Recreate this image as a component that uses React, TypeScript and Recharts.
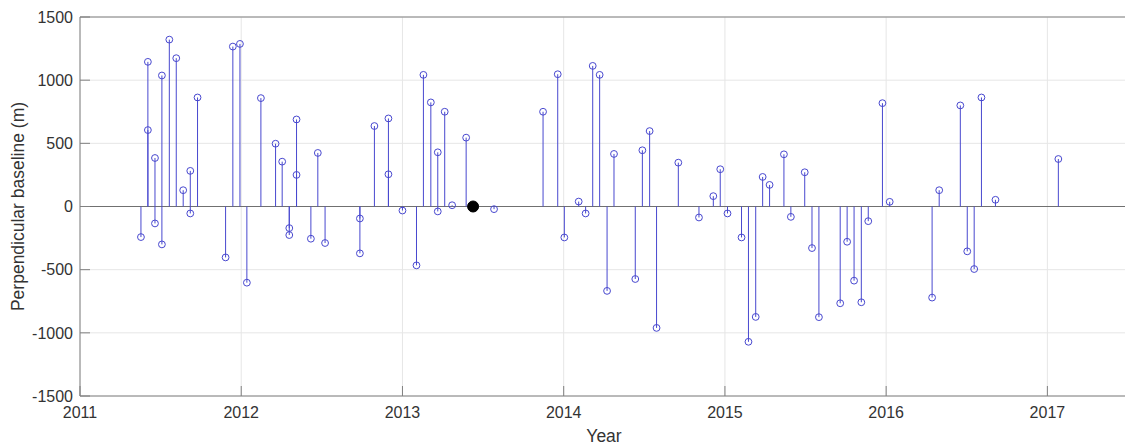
import { ComposedChart, XAxis, YAxis, CartesianGrid, Scatter, ReferenceLine } from "recharts";

// acquisition dates (decimal year) and perpendicular baselines (m)
const acquisitionYears = [
  2011.378, 2011.421, 2011.421, 2011.465, 2011.465, 2011.508, 2011.508, 2011.554, 2011.597, 2011.64,
  2011.684, 2011.684, 2011.729, 2011.903, 2011.948, 2011.992, 2012.035, 2012.122, 2012.213, 2012.254,
  2012.298, 2012.298, 2012.343, 2012.343, 2012.432, 2012.475, 2012.52, 2012.736, 2012.736, 2012.826,
  2012.913, 2012.913, 2013.0, 2013.087, 2013.13, 2013.176, 2013.219, 2013.219, 2013.262, 2013.308,
  2013.395, 2013.568, 2013.872, 2013.963, 2014.004, 2014.093, 2014.136, 2014.18, 2014.223, 2014.269,
  2014.312, 2014.444, 2014.488, 2014.533, 2014.576, 2014.711, 2014.839, 2014.928, 2014.971, 2015.016,
  2015.103, 2015.146, 2015.191, 2015.234, 2015.277, 2015.366, 2015.409, 2015.495, 2015.54, 2015.583,
  2015.715, 2015.758, 2015.801, 2015.846, 2015.889, 2015.977, 2016.022, 2016.285, 2016.329, 2016.46,
  2016.503, 2016.546, 2016.591, 2016.678, 2017.068,
];
const perpBaselines = [
  -242, 1145, 605, 384, -134, 1037, -300, 1321, 1174, 129,
  282, -55, 863, -403, 1266, 1287, -603, 858, 497, 355,
  -171, -226, 689, 250, -255, 424, -289, -95, -371, 637,
  697, 255, -32, -466, 1042, 824, 429, -39, 750, 10,
  545, -21, 750, 1047, -245, 39, -55, 1113, 1042, -668,
  416, -574, 445, 597, -961, 347, -87, 82, 295, -55,
  -245, -1071, -874, 234, 171, 413, -82, 271, -329, -876,
  -766, -279, -587, -758, -116, 818, 37, -721, 129, 800,
  -355, -495, 863, 53, 376,
];
const masterYear = 2013.438;

const yearTicks = [2011, 2012, 2013, 2014, 2015, 2016, 2017];
const baselineTicks = [-1500, -1000, -500, 0, 500, 1000, 1500];

const slaves = acquisitionYears.map((year, i) => ({ year, bperp: perpBaselines[i] }));
const master = [{ year: masterYear, bperp: 0 }];

const FONT = "'Liberation Sans', Arial, Helvetica, sans-serif";
const BOX = "#808080";
const TEXT = "#333333";
const STEM = "#4848cf";

const tickStyle = { fill: TEXT, fontSize: 16, fontFamily: FONT };

export default function App() {
  return (
    <div style={{ position: "absolute", left: 0, top: 0, width: 1125, height: 447, overflow: "hidden", background: "#fff" }}>
      <ComposedChart
        width={1140}
        height={447}
        margin={{ top: 16, right: 11, bottom: 0, left: 8 }}
        style={{ fontFamily: FONT }}
      >
        <CartesianGrid stroke="#e6e6e6" />
        <XAxis
          dataKey="year"
          type="number"
          domain={[2011, 2017.5]}
          ticks={yearTicks}
          allowDataOverflow
          height={51}
          stroke={BOX}
          tickLine={{ stroke: BOX }}
          tickSize={-10}
          tickMargin={21}
          tick={tickStyle}
          label={{ value: "Year", position: "insideBottom", offset: 5, fill: TEXT, fontSize: 17.5, fontFamily: FONT }}
        />
        <XAxis
          xAxisId="top"
          orientation="top"
          dataKey="year"
          type="number"
          domain={[2011, 2017.5]}
          ticks={yearTicks}
          allowDataOverflow
          height={1}
          stroke={BOX}
          tickLine={{ stroke: BOX }}
          tickSize={-10}
          tick={false}
        />
        <YAxis
          type="number"
          domain={[-1500, 1500]}
          ticks={baselineTicks}
          allowDataOverflow
          width={72}
          stroke={BOX}
          tickLine={{ stroke: BOX }}
          tickSize={-10}
          tickMargin={17}
          tick={tickStyle}
          label={{
            value: "Perpendicular baseline (m)",
            angle: -90,
            position: "center",
            dx: -26,
            fill: TEXT,
            fontSize: 17.5,
            fontFamily: FONT,
          }}
        />
        <YAxis
          yAxisId="right"
          orientation="right"
          type="number"
          domain={[-1500, 1500]}
          ticks={baselineTicks}
          allowDataOverflow
          width={1}
          stroke={BOX}
          tickLine={{ stroke: BOX }}
          tickSize={-10}
          tick={false}
        />
        <ReferenceLine y={0} stroke="#707070" strokeWidth={1} />
        {slaves.map((s, i) => (
          <ReferenceLine
            key={`stem-${i}`}
            segment={[
              { x: s.year, y: 0 },
              { x: s.year, y: s.bperp },
            ]}
            stroke={STEM}
            strokeWidth={1}
          />
        ))}
        <Scatter
          data={slaves}
          dataKey="bperp"
          isAnimationActive={false}
          shape={(p: any) => <circle cx={p.cx} cy={p.cy} r={3.4} fill="none" stroke={STEM} strokeWidth={1} />}
        />
        <Scatter
          data={master}
          dataKey="bperp"
          isAnimationActive={false}
          shape={(p: any) => <circle cx={p.cx} cy={p.cy} r={5.5} fill="#000" stroke="#000" />}
        />
      </ComposedChart>
    </div>
  );
}
